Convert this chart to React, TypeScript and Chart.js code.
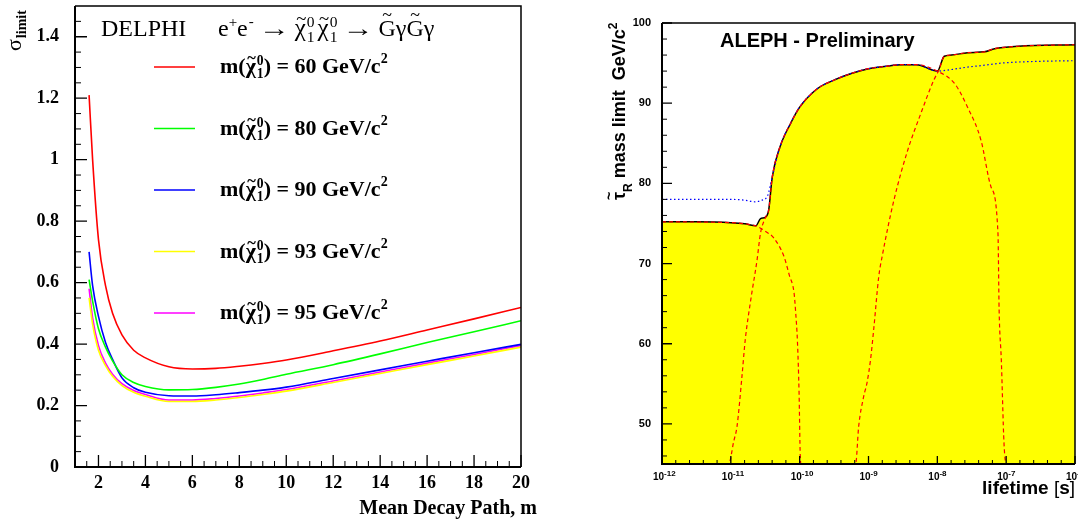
import React, { useEffect, useRef } from "react";
import { Chart, registerables } from "chart.js";

Chart.register(...registerables);

const SERIF = '"Liberation Serif", "Times New Roman", serif';
const SANS = '"Liberation Sans", Arial, sans-serif';

// ---------------- Left panel (DELPHI) ----------------
const decayPath = [1.6, 1.75, 2.0, 2.3, 2.6, 3.0, 3.5, 4, 5, 6, 7, 8, 9, 10, 12, 14, 16, 18, 20];
const sigma60 = [1.21, 1.0, 0.74, 0.59, 0.5, 0.43, 0.38, 0.355, 0.326, 0.319, 0.321, 0.328, 0.337, 0.348, 0.378, 0.41, 0.446, 0.482, 0.519];
const sigma80 = [0.61, 0.54, 0.45, 0.39, 0.345, 0.3, 0.275, 0.262, 0.251, 0.252, 0.259, 0.27, 0.285, 0.302, 0.333, 0.368, 0.405, 0.44, 0.476];
const sigma90 = [0.7, 0.59, 0.49, 0.405, 0.35, 0.29, 0.258, 0.243, 0.232, 0.231, 0.235, 0.242, 0.25, 0.26, 0.288, 0.316, 0.344, 0.372, 0.399];
const sigma93 = [0.55, 0.465, 0.38, 0.33, 0.295, 0.265, 0.243, 0.23, 0.213, 0.213, 0.218, 0.226, 0.236, 0.247, 0.275, 0.304, 0.333, 0.361, 0.39];
const sigma95 = [0.58, 0.485, 0.395, 0.338, 0.302, 0.271, 0.249, 0.236, 0.218, 0.218, 0.223, 0.231, 0.241, 0.252, 0.28, 0.309, 0.338, 0.366, 0.395];
const massLabels = ["60", "80", "90", "93", "95"];
const massColors = ["#ff0000", "#00ff00", "#0000ff", "#ffff00", "#ff00ff"];
const sigmaTickValues = [0, 0.2, 0.4, 0.6, 0.8, 1, 1.2, 1.4];
const sigmaTickLabels = ["0", "0.2", "0.4", "0.6", "0.8", "1", "1.2", "1.4"];
const pathTickValues = [2, 4, 6, 8, 10, 12, 14, 16, 18, 20];
const pathTickLabels = ["2", "4", "6", "8", "10", "12", "14", "16", "18", "20"];

// ---------------- Right panel (ALEPH) ----------------
const observedT = [1e-12, 3.2e-12, 1e-11, 1.6e-11, 2.3e-11, 2.7e-11, 3.2e-11, 3.55e-11, 4.0e-11, 5.2e-11, 7.4e-11, 1.0e-10, 1.8e-10, 3.2e-10, 5.6e-10, 1.0e-9, 1.8e-9, 3.0e-9, 5.0e-9, 1.0e-8, 1.26e-8, 1.6e-8, 2.75e-8, 4.8e-8, 6.8e-8, 1.5e-7, 1e-6];
const observedM = [75.2, 75.2, 75.1, 74.95, 74.7, 75.6, 75.8, 76.7, 80.8, 84.6, 87.5, 89.5, 91.8, 92.9, 93.7, 94.3, 94.6, 94.8, 94.8, 94.0, 95.85, 96.0, 96.3, 96.4, 96.8, 97.1, 97.3];
const expectedT = [1e-12, 1e-11, 1.6e-11, 2.25e-11, 2.8e-11, 3.4e-11, 4.0e-11, 5.2e-11, 7.4e-11, 1e-10, 1.8e-10, 3.2e-10, 5.6e-10, 1e-9, 1.8e-9, 3e-9, 5e-9, 1e-8, 1.6e-8, 2.75e-8, 5e-8, 8.5e-8, 2.5e-7, 1e-6];
const expectedM = [78.0, 78.0, 77.9, 77.7, 77.9, 78.4, 80.8, 84.6, 87.5, 89.5, 91.8, 92.9, 93.7, 94.3, 94.6, 94.8, 94.8, 94.0, 94.2, 94.5, 94.75, 95.0, 95.2, 95.3];
const shortT = [1e-12, 1e-11, 1.6e-11, 2.3e-11, 3.2e-11, 4.2e-11, 5.9e-11, 7.1e-11, 8.3e-11, 8.7e-11, 9.3e-11, 9.8e-11, 1.02e-10, 1.05e-10, 1e-6];
const shortM = [75.2, 75.1, 74.95, 74.7, 74.0, 73.2, 70.9, 68.5, 66.3, 64.2, 60.1, 53.9, 46.0, 45, 45];
const impactT = [1e-12, 9.3e-12, 1.1e-11, 1.23e-11, 1.45e-11, 1.62e-11, 1.95e-11, 2.4e-11, 2.7e-11, 3.2e-11, 3.55e-11, 4.0e-11, 5.2e-11, 7.4e-11, 1.0e-10, 1.8e-10, 3.2e-10, 5.6e-10, 1.0e-9, 1.8e-9, 3.0e-9, 5.0e-9, 1.0e-8, 1.78e-8, 2.75e-8, 4.3e-8, 6.0e-8, 7.6e-8, 7.9e-8, 8.5e-8, 9.3e-8, 1e-7, 1e-6];
const impactM = [45, 45, 47.8, 49.7, 55.9, 60.5, 65.5, 70.4, 73.8, 75.8, 76.7, 80.8, 84.6, 87.5, 89.5, 91.8, 92.9, 93.7, 94.3, 94.6, 94.8, 94.8, 94.0, 92.45, 89.5, 85.4, 79.6, 73.8, 64.2, 58.0, 47.6, 45, 45];
const kinkT = [1e-12, 6.5e-10, 7.2e-10, 8.5e-10, 9.5e-10, 1.07e-9, 1.2e-9, 1.41e-9, 1.58e-9, 2.34e-9, 3.7e-9, 5.75e-9, 8.9e-9, 1.05e-8, 1.26e-8, 1.6e-8, 2.75e-8, 4.8e-8, 6.8e-8, 1.5e-7, 1e-6];
const kinkM = [45, 45, 49.7, 53.4, 55.1, 58.0, 62.1, 68.4, 70.9, 77.9, 84.1, 88.7, 92.9, 94.1, 95.85, 96.0, 96.3, 96.4, 96.8, 97.1, 97.3];
const lifetimeTickValues = [1e-12, 1e-11, 1e-10, 1e-9, 1e-8, 1e-7, 1e-6];
const lifetimeTickExponents = ["-12", "-11", "-10", "-9", "-8", "-7", "-6"];
const massTickValues = [50, 60, 70, 80, 90, 100];
const massTickLabels = ["50", "60", "70", "80", "90", "100"];

type TickSpec = {
  xMajor: number[]; xMinor: number[]; yMajor: number[]; yMinor: number[];
  xLen: [number, number]; yLen: [number, number];
};

function innerTicks(spec: TickSpec) {
  return {
    id: "innerTicks",
    afterDatasetsDraw(chart: any) {
      const { ctx, chartArea: a } = chart;
      const sx = chart.scales.x;
      const sy = chart.scales.y;
      ctx.save();
      ctx.strokeStyle = "#000";
      const draw = (vals: number[], len: number, lw: number, axis: "x" | "y") => {
        ctx.lineWidth = lw;
        ctx.beginPath();
        for (const v of vals) {
          if (axis === "y") {
            const p = sy.getPixelForValue(v);
            ctx.moveTo(a.left, p);
            ctx.lineTo(a.left + len, p);
          } else {
            const p = sx.getPixelForValue(v);
            ctx.moveTo(p, a.bottom);
            ctx.lineTo(p, a.bottom - len);
          }
        }
        ctx.stroke();
      };
      draw(spec.yMinor, spec.yLen[1], 1, "y");
      draw(spec.yMajor, spec.yLen[0], 1.3, "y");
      draw(spec.xMinor, spec.xLen[1], 1, "x");
      draw(spec.xMajor, spec.xLen[0], 1.3, "x");
      ctx.lineWidth = 1.5;
      ctx.beginPath();
      ctx.moveTo(a.left, a.top);
      ctx.lineTo(a.right, a.top);
      ctx.lineTo(a.right, a.bottom);
      ctx.stroke();
      ctx.lineWidth = 2;
      ctx.beginPath();
      ctx.moveTo(a.left, a.top);
      ctx.lineTo(a.left, a.bottom);
      ctx.lineTo(a.right, a.bottom);
      ctx.stroke();
      ctx.restore();
    },
  };
}

function chiTilde(ctx: CanvasRenderingContext2D, x: number, y: number, size: number, weight: string) {
  ctx.font = `${weight} ${size}px ${SERIF}`;
  ctx.fillText("χ", x, y);
  const w = ctx.measureText("χ").width;
  ctx.font = `${weight} ${size * 0.75}px ${SERIF}`;
  const tw = ctx.measureText("~").width;
  ctx.fillText("~", x + (w - tw) / 2 + size * 0.04, y - size * 0.45);
  const s = size * 0.62;
  ctx.font = `${weight} ${s}px ${SERIF}`;
  ctx.fillText("0", x + w + 1, y - size * 0.36);
  ctx.fillText("1", x + w + 1, y + size * 0.24);
  return x + w + 1 + ctx.measureText("0").width;
}

function tildeChar(ctx: CanvasRenderingContext2D, ch: string, x: number, y: number, size: number) {
  ctx.font = `${size}px ${SERIF}`;
  ctx.fillText(ch, x, y);
  const w = ctx.measureText(ch).width;
  ctx.font = `${size * 0.75}px ${SERIF}`;
  const tw = ctx.measureText("~").width;
  ctx.fillText("~", x + (w - tw) / 2, y - size * 0.62);
  return x + w;
}

function arrow(ctx: CanvasRenderingContext2D, x: number, y: number, size: number, len: number, gap: number) {
  ctx.font = `${size}px ${SERIF}`;
  const w = ctx.measureText("→").width;
  ctx.save();
  ctx.translate(x + gap, y);
  ctx.scale(len / w, 1);
  ctx.fillText("→", 0, 0);
  ctx.restore();
  return x + gap * 2 + len;
}

function drawReaction(ctx: CanvasRenderingContext2D, x0: number, y: number) {
  let x = x0;
  const put = (t: string, size: number, dy = 0) => {
    ctx.font = `${size}px ${SERIF}`;
    ctx.fillText(t, x, y + dy);
    x += ctx.measureText(t).width;
  };
  put("e", 24);
  put("+", 15, -9);
  put("e", 24);
  x += 1;
  put("-", 15, -10);
  x = arrow(ctx, x, y, 24, 31, 5);
  x = chiTilde(ctx, x, y, 25, "normal");
  x += 3;
  x = chiTilde(ctx, x, y, 25, "normal");
  x = arrow(ctx, x, y, 24, 31, 5);
  x = tildeChar(ctx, "G", x, y, 24);
  put("γ", 24);
  x = tildeChar(ctx, "G", x, y, 24);
  put("γ", 24);
}

function drawMassLabel(ctx: CanvasRenderingContext2D, x0: number, y: number, mass: string) {
  let x = x0;
  const put = (t: string, size: number, dy = 0) => {
    ctx.font = `bold ${size}px ${SERIF}`;
    ctx.fillText(t, x, y + dy);
    x += ctx.measureText(t).width;
  };
  put("m(", 22);
  x = chiTilde(ctx, x, y, 22, "bold");
  put(") = " + mass + " GeV/c", 22);
  put("2", 14, -10);
}

const delphiText = {
  id: "delphiText",
  afterDraw(chart: any) {
    const ctx: CanvasRenderingContext2D = chart.ctx;
    ctx.save();
    ctx.fillStyle = "#000";
    ctx.textAlign = "left";
    ctx.textBaseline = "alphabetic";
    ctx.font = `24px ${SERIF}`;
    ctx.fillText("DELPHI", 101, 36);
    drawReaction(ctx, 218, 36);
    chart.data.datasets.forEach((ds: any, i: number) => {
      const y = 67 + i * 61.5;
      ctx.strokeStyle = ds.borderColor;
      ctx.lineWidth = 1.5;
      ctx.beginPath();
      ctx.moveTo(154, y);
      ctx.lineTo(195, y);
      ctx.stroke();
      drawMassLabel(ctx, 220, y + 6, massLabels[i]);
    });
    // x title
    ctx.font = `bold 20px ${SERIF}`;
    ctx.textAlign = "right";
    ctx.fillText("Mean Decay Path, m", 537, 514);
    // y title
    ctx.textAlign = "left";
    ctx.save();
    ctx.translate(21, 51);
    ctx.rotate(-Math.PI / 2);
    ctx.font = `22px ${SERIF}`;
    ctx.fillText("σ", 0, 0);
    const w = ctx.measureText("σ").width;
    ctx.font = `bold 14px ${SERIF}`;
    ctx.fillText("limit", w + 1, 5);
    ctx.restore();
    ctx.restore();
  },
};

const alephText = {
  id: "alephText",
  afterDraw(chart: any) {
    const ctx: CanvasRenderingContext2D = chart.ctx;
    const sx = chart.scales.x;
    ctx.save();
    ctx.fillStyle = "#000";
    ctx.textBaseline = "alphabetic";
    ctx.textAlign = "left";
    ctx.font = `bold 20px ${SANS}`;
    ctx.fillText("ALEPH - Preliminary", 120, 47);
    // x tick labels
    lifetimeTickValues.forEach((v, i) => {
      const p = sx.getPixelForValue(v);
      ctx.font = `bold 10px ${SANS}`;
      ctx.fillText("10", p - 9, 480);
      const w = ctx.measureText("10").width;
      ctx.font = `bold 8px ${SANS}`;
      ctx.fillText(lifetimeTickExponents[i], p - 9 + w, 476);
    });
    // x title
    const parts: [string, string][] = [["lifetime ", "bold"], ["[", "normal"], ["s", "bold"], ["]", "normal"]];
    let total = 0;
    for (const [t, wt] of parts) {
      ctx.font = `${wt} 19px ${SANS}`;
      total += ctx.measureText(t).width;
    }
    let x = 475 - total;
    for (const [t, wt] of parts) {
      ctx.font = `${wt} 19px ${SANS}`;
      ctx.fillText(t, x, 494);
      x += ctx.measureText(t).width;
    }
    // y title
    ctx.save();
    ctx.translate(24.5, 200);
    ctx.rotate(-Math.PI / 2);
    let tx = 0;
    ctx.font = `bold 18px ${SANS}`;
    ctx.fillText("τ", tx, 0);
    const tw = ctx.measureText("τ").width;
    ctx.font = `bold 14px ${SANS}`;
    const tlw = ctx.measureText("~").width;
    ctx.fillText("~", tx + (tw - tlw) / 2, -11);
    tx += tw;
    ctx.font = `bold 12px ${SANS}`;
    ctx.fillText("R", tx, 7);
    tx += ctx.measureText("R").width;
    ctx.font = `bold 18px ${SANS}`;
    const main = " mass limit  GeV/c";
    ctx.fillText(main, tx, 0);
    tx += ctx.measureText(main).width;
    ctx.font = `bold 12px ${SANS}`;
    ctx.fillText("2", tx, -8);
    ctx.restore();
    ctx.restore();
  },
};

function LeftChart() {
  const ref = useRef<HTMLCanvasElement>(null);
  useEffect(() => {
    const series = [sigma60, sigma80, sigma90, sigma93, sigma95];
    const xMinor: number[] = [];
    for (let v = 1.5; v < 20; v += 0.5) if (v % 2 !== 0) xMinor.push(v);
    const yMinor: number[] = [];
    for (let k = 1; k < 30; k++) if (k % 4 !== 0) yMinor.push(k * 0.05);
    const chart = new Chart(ref.current as HTMLCanvasElement, {
      type: "line",
      data: {
        datasets: series.map((s, i) => ({
          label: `m = ${massLabels[i]} GeV/c2`,
          data: decayPath.map((x, j) => ({ x, y: s[j] })),
          borderColor: massColors[i],
          borderWidth: 1.6,
          pointRadius: 0,
          fill: false,
          cubicInterpolationMode: "monotone" as const,
        })),
      },
      options: {
        animation: false,
        responsive: false,
        events: [],
        layout: { padding: { left: 0, right: 19, top: 6, bottom: 0 } },
        plugins: { legend: { display: false }, tooltip: { enabled: false } },
        scales: {
          x: {
            type: "linear",
            min: 1,
            max: 20,
            grid: { display: false, drawTicks: false },
            border: { display: false },
            afterBuildTicks: (ax: any) => { ax.ticks = pathTickValues.map((v) => ({ value: v })); },
            afterFit: (ax: any) => { ax.height = 54; ax.paddingLeft = 0; ax.paddingRight = 0; },
            ticks: {
              autoSkip: false,
              maxRotation: 0,
              padding: 6,
              color: "#000",
              font: { family: SERIF, size: 18, weight: "bold" },
              callback: (v: any, i: number) => pathTickLabels[i] ?? "",
            },
          },
          y: {
            type: "linear",
            min: 0,
            max: 1.5,
            grid: { display: false, drawTicks: false },
            border: { display: false },
            afterBuildTicks: (ax: any) => { ax.ticks = sigmaTickValues.map((v) => ({ value: v })); },
            afterFit: (ax: any) => { ax.width = 75; ax.paddingTop = 0; ax.paddingBottom = 0; },
            ticks: {
              autoSkip: false,
              padding: 16,
              color: "#000",
              font: { family: SERIF, size: 18, weight: "bold" },
              callback: (v: any, i: number) => sigmaTickLabels[i] ?? "",
            },
          },
        },
      } as any,
      plugins: [
        innerTicks({ xMajor: pathTickValues, xMinor, yMajor: sigmaTickValues, yMinor, xLen: [12, 6], yLen: [12, 6] }),
        delphiText,
      ],
    });
    return () => chart.destroy();
  }, []);
  return <canvas ref={ref} width={540} height={521} style={{ position: "absolute", left: 0, top: 0, width: 540, height: 521 }} />;
}

function RightChart() {
  const ref = useRef<HTMLCanvasElement>(null);
  useEffect(() => {
    const pts = (t: number[], m: number[]) => t.map((x, i) => ({ x, y: m[i] }));
    const xMinor: number[] = [];
    for (let e = -12; e < -6; e++) for (let k = 1; k < 5; k++) xMinor.push(Math.pow(10, e + k * 0.2));
    const yMinor: number[] = [];
    for (let v = 46; v < 100; v += 2) if (v % 10 !== 0) yMinor.push(v);
    const red = { borderColor: "#ff0000", borderWidth: 1.2, borderDash: [4, 3], pointRadius: 0, fill: false, order: 0, cubicInterpolationMode: "monotone" as const };
    const chart = new Chart(ref.current as HTMLCanvasElement, {
      type: "line",
      data: {
        datasets: [
          { label: "short lifetime", data: pts(shortT, shortM), ...red },
          { label: "large impact parameter", data: pts(impactT, impactM), ...red },
          { label: "kinks", data: pts(kinkT, kinkM), ...red },
          { label: "expected", data: pts(expectedT, expectedM), borderColor: "#0000ff", borderWidth: 1.2, borderDash: [1.5, 2.5], pointRadius: 0, fill: false, order: 0, cubicInterpolationMode: "monotone" as const },
          { label: "observed", data: pts(observedT, observedM), borderColor: "#000000", borderWidth: 1.5, backgroundColor: "#ffff00", fill: "start", pointRadius: 0, order: 5, cubicInterpolationMode: "monotone" as const },
        ],
      },
      options: {
        animation: false,
        responsive: false,
        events: [],
        layout: { padding: { left: 0, right: 3, top: 23, bottom: 0 } },
        plugins: { legend: { display: false }, tooltip: { enabled: false } },
        scales: {
          x: {
            type: "logarithmic",
            min: 1e-12,
            max: 1e-6,
            grid: { display: false, drawTicks: false },
            border: { display: false },
            afterBuildTicks: (ax: any) => { ax.ticks = lifetimeTickValues.map((v) => ({ value: v })); },
            afterFit: (ax: any) => { ax.height = 57; ax.paddingLeft = 0; ax.paddingRight = 0; },
            ticks: { display: false },
          },
          y: {
            type: "linear",
            min: 45,
            max: 100,
            grid: { display: false, drawTicks: false },
            border: { display: false },
            afterBuildTicks: (ax: any) => { ax.ticks = massTickValues.map((v) => ({ value: v })); },
            afterFit: (ax: any) => { ax.width = 62; ax.paddingTop = 0; ax.paddingBottom = 0; },
            ticks: {
              autoSkip: false,
              padding: 11,
              color: "#000",
              font: { family: SANS, size: 11, weight: "bold" },
              callback: (v: any, i: number) => massTickLabels[i] ?? "",
            },
          },
        },
      } as any,
      plugins: [
        innerTicks({ xMajor: lifetimeTickValues, xMinor, yMajor: massTickValues, yMinor, xLen: [8, 4], yLen: [10, 5] }),
        alephText,
      ],
    });
    return () => chart.destroy();
  }, []);
  return <canvas ref={ref} width={478} height={521} style={{ position: "absolute", left: 600, top: 0, width: 478, height: 521 }} />;
}

export default function App() {
  return (
    <div style={{ position: "absolute", left: 0, top: 0, width: 1078, height: 521, background: "#fff", overflow: "hidden" }}>
      <LeftChart />
      <RightChart />
    </div>
  );
}
